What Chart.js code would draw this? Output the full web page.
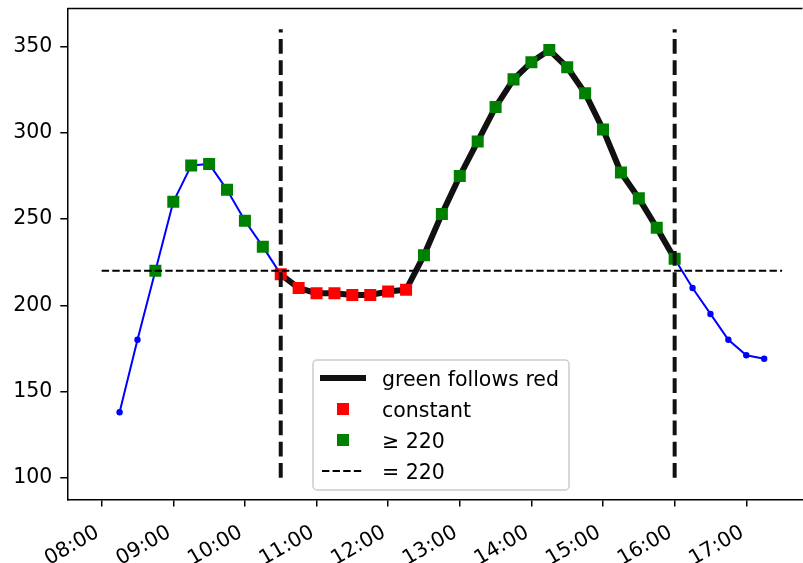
<!DOCTYPE html>
<html>
	<head>
		<script src="https://cdn.jsdelivr.net/npm/chart.js@4"></script>
		<style>
			body { margin: 0; background: #fff; overflow: hidden; }
		</style>
	</head>
	<body>
		<canvas id="myChart" width="811" height="563"></canvas>
		<script>
			// Readings every 15 minutes
			const times = ['08:15', '08:30', '08:45', '09:00', '09:15', '09:30', '09:45', '10:00', '10:15',
				'10:30', '10:45', '11:00', '11:15', '11:30', '11:45', '12:00', '12:15',
				'12:30', '12:45', '13:00', '13:15', '13:30', '13:45', '14:00', '14:15',
				'14:30', '14:45', '15:00', '15:15', '15:30', '15:45', '16:00',
				'16:15', '16:30', '16:45', '17:00', '17:15'];
			const values = [138, 180, 220, 260, 281, 282, 267, 249, 234,
				218, 210, 207, 207, 206, 206, 208, 209,
				229, 253, 275, 295, 315, 331, 341, 348,
				338, 323, 302, 277, 262, 245, 227,
				210, 195, 180, 171, 169];

			const threshold = 220;
			const constantTimes = ['10:30', '10:45', '11:00', '11:15', '11:30', '11:45', '12:00', '12:15'];
			const followStart = '10:30';
			const followEnd = '16:00';
			const vlineTimes = ['10:30', '16:00'];
			const vlineSpan = [100, 360];
			const hlineSpan = ['08:00', '17:30'];

			const xTickLabels = ['08:00', '09:00', '10:00', '11:00', '12:00', '13:00', '14:00', '15:00', '16:00', '17:00'];
			const yTickValues = [100, 150, 200, 250, 300, 350];

			const FONT = "'DejaVu Sans', sans-serif";
			const FSIZE = 20.5;

			function toMin(t) {
				const [h, m] = t.split(':').map(Number);
				return h * 60 + m;
			}
			function fmt(v) {
				const h = Math.floor(v / 60), m = Math.round(v % 60);
				return String(h).padStart(2, '0') + ':' + String(m).padStart(2, '0');
			}

			const points = times.map((t, i) => ({x: toMin(t), y: values[i]}));
			const greenPts = points.filter(p => p.y >= threshold);
			const redPts = points.filter(p => constantTimes.includes(fmt(p.x)));
			const followPts = points.filter(p => p.x >= toMin(followStart) && p.x <= toMin(followEnd));

			// legend box drawn inside the plot, lower middle
			const legendBox = {
				id: 'legendBox',
				afterDraw(chart) {
					const ctx = chart.ctx;
					const left = 313, top = 360, w = 256, h = 130;
					ctx.save();
					ctx.beginPath();
					ctx.roundRect(left, top, w, h, 4);
					ctx.fillStyle = 'rgba(255,255,255,0.8)';
					ctx.fill();
					ctx.strokeStyle = '#cccccc';
					ctx.lineWidth = 1.5;
					ctx.stroke();

					const rows = [378, 409, 440, 471];
					const labels = ['green follows red', 'constant', '\u2265 220', '= 220'];

					ctx.strokeStyle = '#111';
					ctx.lineWidth = 6;
					ctx.beginPath();
					ctx.moveTo(320, rows[0]);
					ctx.lineTo(366, rows[0]);
					ctx.stroke();

					ctx.fillStyle = '#ff0000';
					ctx.fillRect(337, rows[1] - 6, 12, 12);
					ctx.fillStyle = '#008000';
					ctx.fillRect(337, rows[2] - 6, 12, 12);

					ctx.strokeStyle = '#000';
					ctx.lineWidth = 2;
					ctx.setLineDash([7.4, 3.2]);
					ctx.beginPath();
					ctx.moveTo(322, rows[3]);
					ctx.lineTo(362, rows[3]);
					ctx.stroke();
					ctx.setLineDash([]);

					ctx.fillStyle = '#000';
					ctx.font = FSIZE + 'px ' + FONT;
					ctx.textAlign = 'left';
					ctx.textBaseline = 'alphabetic';
					labels.forEach((s, i) => ctx.fillText(s, 382, rows[i] + 8));
					ctx.restore();
				}
			};

			// top spine
			const frame = {
				id: 'frame',
				afterDraw(chart) {
					const {ctx, chartArea} = chart;
					ctx.save();
					ctx.strokeStyle = '#000';
					ctx.lineWidth = 1.5;
					ctx.beginPath();
					ctx.moveTo(chartArea.left, chartArea.top);
					ctx.lineTo(chartArea.right, chartArea.top);
					ctx.stroke();
					ctx.restore();
				}
			};

			const ctx = document.getElementById('myChart').getContext('2d');

			const chart = new Chart(ctx, {
				type: 'line',
				data: {
					datasets: [{
						label: 'values',
						data: points,
						borderColor: '#0000ff',
						backgroundColor: '#0000ff',
						borderWidth: 2,
						pointRadius: 3.2,
						pointBorderWidth: 0,
						order: 6
					}, {
						label: 'green follows red',
						data: followPts,
						borderColor: '#111',
						borderWidth: 6,
						pointRadius: 0,
						order: 5
					}, {
						label: 'constant',
						data: redPts,
						showLine: false,
						pointStyle: 'rect',
						pointRadius: 8.5,
						pointBorderWidth: 0,
						backgroundColor: '#ff0000',
						order: 4
					}, {
						label: '\u2265 220',
						data: greenPts,
						showLine: false,
						pointStyle: 'rect',
						pointRadius: 8.5,
						pointBorderWidth: 0,
						backgroundColor: '#008000',
						order: 3
					}, {
						label: '= 220',
						data: hlineSpan.map(t => ({x: toMin(t), y: threshold})),
						borderColor: '#000',
						borderWidth: 2,
						borderDash: [7.4, 3.2],
						pointRadius: 0,
						order: 2
					}, ...vlineTimes.map(t => ({
						label: 'v ' + t,
						data: vlineSpan.map(v => ({x: toMin(t), y: v})),
						borderColor: '#111',
						borderWidth: 4,
						borderDash: [14.8, 6.4],
						pointRadius: 0,
						order: 1
					}))]
				},
				options: {
					responsive: false,
					animation: false,
					events: [],
					layout: {padding: {top: 7.5, left: 0, right: 0, bottom: 0}},
					plugins: {
						legend: {display: false},
						tooltip: {enabled: false}
					},
					scales: {
						x: {
							type: 'linear',
							min: 451.2,
							max: 1067.1,
							afterFit: s => {
								s.height = 63.5;
								s.paddingLeft = 0;
								s.paddingRight = 0;
							},
							afterBuildTicks: s => { s.ticks = xTickLabels.map(t => ({value: toMin(t)})); },
							grid: {drawOnChartArea: false, tickLength: 7, color: '#000', lineWidth: 1.5},
							border: {color: '#000', width: 1.5},
							ticks: {
								autoSkip: false,
								minRotation: 30,
								maxRotation: 30,
								padding: 14,
								labelOffset: -4,
								color: '#000',
								font: {family: FONT, size: FSIZE},
								callback: v => fmt(v)
							}
						},
						y: {
							min: 87.4,
							max: 372.1,
							afterFit: s => {
								s.width = 67.3;
								s.paddingTop = 0;
								s.paddingBottom = 0;
							},
							afterBuildTicks: s => { s.ticks = yTickValues.map(v => ({value: v})); },
							grid: {drawOnChartArea: false, tickLength: 7, color: '#000', lineWidth: 1.5},
							border: {color: '#000', width: 1.5},
							ticks: {
								padding: 8,
								color: '#000',
								font: {family: FONT, size: FSIZE}
							}
						}
					}
				},
				plugins: [frame, legendBox]
			});
		</script>
	</body>
</html>
